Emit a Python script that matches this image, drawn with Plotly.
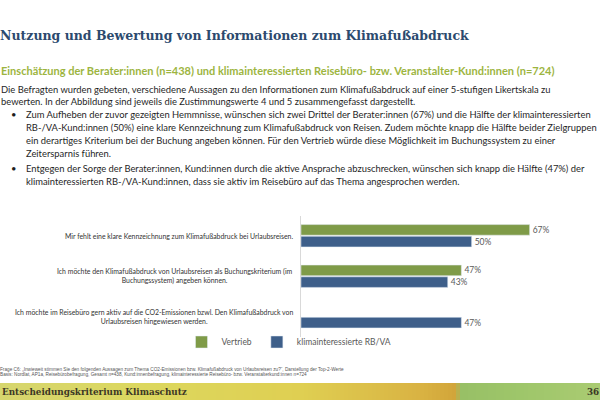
import plotly.graph_objects as go

# ---------------- data ----------------
categories = [
    "Mir fehlt eine klare Kennzeichnung zum Klimafußabdruck bei Urlaubsreisen.",
    "Ich möchte den Klimafußabdruck von Urlaubsreisen als Buchungskriterium (im<br>Buchungssystem) angeben können.",
    "Ich möchte im Reisebüro gern aktiv auf die CO2-Emissionen bzwl. Den Klimafußabdruck von<br>Urlaubsreisen hingewiesen werden.",
]
vertrieb = [0.67, 0.47, None]
kunden = [0.50, 0.43, 0.47]
series_names = ["Vertrieb", "klimainteressierte RB/VA"]

title_text = "Nutzung und Bewertung von Informationen zum Klimafußabdruck"
subtitle_text = "Einschätzung der Berater:innen (n=438) und klimainteressierten Reisebüro- bzw. Veranstalter-Kund:innen (n=724)"
para_lines = [
    "Die Befragten wurden gebeten, verschiedene Aussagen zu den Informationen zum Klimafußabdruck auf einer 5-stufigen Likertskala zu",
    "bewerten. In der Abbildung sind jeweils die Zustimmungswerte 4 und 5 zusammengefasst dargestellt.",
]
bullet1_lines = [
    "Zum Aufheben der zuvor gezeigten Hemmnisse, wünschen sich zwei Drittel der Berater:innen (67%) und die Hälfte der klimainteressierten",
    "RB-/VA-Kund:innen (50%) eine klare Kennzeichnung zum Klimafußabdruck von Reisen. Zudem möchte knapp die Hälfte beider Zielgruppen",
    "ein derartiges Kriterium bei der Buchung angeben können. Für den Vertrieb würde diese Möglichkeit im Buchungssystem zu einer",
    "Zeitersparnis führen.",
]
bullet2_lines = [
    "Entgegen der Sorge der Berater:innen, Kund:innen durch die aktive Ansprache abzuschrecken, wünschen sich knapp die Hälfte (47%) der",
    "klimainteressierten RB-/VA-Kund:innen, dass sie aktiv im Reisebüro auf das Thema angesprochen werden.",
]
footnote_lines = [
    "Frage C6: „Inwieweit stimmen Sie den folgenden Aussagen zum Thema CO2-Emissionen bzw. Klimafußabdruck von Urlaubsreisen zu?“, Darstellung der Top-2-Werte",
    "Basis: Nordlat, AP1a, Reisebürobefragung, Gesamt n=438, Kund:innenbefragung, klimainteressierte Reisebüro- bzw. Veranstalterkund:innen n=724",
]
footer_text = "Entscheidungskriterium Klimaschutz"
page_number = "36"

# ---------------- styling ----------------
W, H = 600, 400
GREEN = "#7F9B48"
BLUE = "#3E5F8A"
BODY_FONT = "Lato"
SLAB = "DejaVu Serif"
BODY_SIZE = 9.4
LINE = 12.8


def py(px):
    return 1 - px / H


def px_x(px):
    return px / W


fig = go.Figure()
fig.add_trace(go.Bar(
    name=series_names[0], y=categories, x=vertrieb, orientation="h",
    marker=dict(color=GREEN), texttemplate="%{x:.0%}", textposition="outside",
    textfont=dict(family=BODY_FONT, size=8.5, color="#595959"), cliponaxis=False,
))
fig.add_trace(go.Bar(
    name=series_names[1], y=categories, x=kunden, orientation="h",
    marker=dict(color=BLUE), texttemplate="%{x:.0%}", textposition="outside",
    textfont=dict(family=BODY_FONT, size=8.5, color="#595959"), cliponaxis=False,
))

annotations = []


def add_text(text, x, y, size, color, family=BODY_FONT, xanchor="left", bold=False):
    t = f"<b>{text}</b>" if bold else text
    annotations.append(dict(
        text=t, x=px_x(x), y=py(y), xref="paper", yref="paper",
        xanchor=xanchor, yanchor="middle", showarrow=False,
        font=dict(family=family, size=size, color=color), align="left",
    ))


add_text(title_text, -2, 36, 12.5, "#2C4A6E", family=SLAB, bold=True)
add_text(subtitle_text, -1, 70, 11, "#9DB53F", bold=True)
for i, line in enumerate(para_lines):
    add_text(line, -1, 89 + i * LINE, BODY_SIZE, "#1F1F1F")
b1_y = 115
for i, line in enumerate(bullet1_lines):
    add_text(line, 24, b1_y + i * LINE, BODY_SIZE, "#1F1F1F")
add_text("•", 9, b1_y, BODY_SIZE, "#1F1F1F")
b2_y = b1_y + 4 * LINE + 2
for i, line in enumerate(bullet2_lines):
    add_text(line, 24, b2_y + i * LINE, BODY_SIZE, "#1F1F1F")
add_text("•", 9, b2_y, BODY_SIZE, "#1F1F1F")
for i, line in enumerate(footnote_lines):
    add_text(line, -2, 369 + i * 5.8, 4.7, "#555555", family="Liberation Sans")

# category labels
for cat in categories:
    annotations.append(dict(
        text=cat, x=px_x(295), y=cat, xref="paper", yref="y",
        xanchor="right", yanchor="middle", showarrow=False, align="center",
        font=dict(family=BODY_FONT, size=6.9, color="#333333"),
    ))

# footer bar (gradient approximated by thin rectangles)
stops = [(0, (0xD6, 0xD6, 0x6E)), (150, (0xDC, 0xD7, 0x5E)), (300, (0xDF, 0xCF, 0x52)),
         (420, (0xD9, 0xB3, 0x43)), (455, (0xD2, 0xA5, 0x3A)), (462, (0x98, 0xC0, 0x66)),
         (520, (0x9E, 0xC6, 0x6A)), (600, (0xAA, 0xCB, 0x72))]


def color_at(x):
    for (x0, c0), (x1, c1) in zip(stops[:-1], stops[1:]):
        if x0 <= x <= x1:
            f = (x - x0) / (x1 - x0) if x1 > x0 else 0
            c = [round(a + (b - a) * f) for a, b in zip(c0, c1)]
            return "rgb({},{},{})".format(*c)
    return "rgb(170,203,114)"


shapes = []
step = 4
for x in range(0, W, step):
    shapes.append(dict(type="rect", xref="paper", yref="paper",
                       x0=px_x(x), x1=px_x(x + step + 0.5), y0=0, y1=py(383),
                       fillcolor=color_at(x + step / 2), line=dict(width=0), layer="below"))

add_text(footer_text, 0, 392, 8.8, "#3C3826", family=SLAB, bold=True)
add_text(page_number, 585, 392, 8.8, "#3C3826", family=SLAB, bold=True)

fig.update_layout(
    width=W, height=H, margin=dict(l=0, r=0, t=0, b=0),
    paper_bgcolor="white", plot_bgcolor="white",
    barmode="group", bargap=0.42, bargroupgap=0.1,
    xaxis=dict(domain=[px_x(301), px_x(574)], range=[0, 0.8], visible=False),
    yaxis=dict(domain=[py(337), py(215.5)], type="category", autorange="reversed",
               showticklabels=False, ticks="", showline=True, linecolor="#D9D9D9",
               linewidth=1, showgrid=False, zeroline=False),
    showlegend=True,
    legend=dict(orientation="h", x=px_x(289), xanchor="center", y=py(342), yanchor="middle",
                font=dict(family=BODY_FONT, size=8.5, color="#595959"),
                bgcolor="rgba(0,0,0,0)", traceorder="normal", itemwidth=30),
    annotations=annotations, shapes=shapes,
)

fig.write_html(
    "out.html",
    config={"displayModeBar": False},
    post_script="document.body.style.margin='0';document.body.style.padding='0';",
)
